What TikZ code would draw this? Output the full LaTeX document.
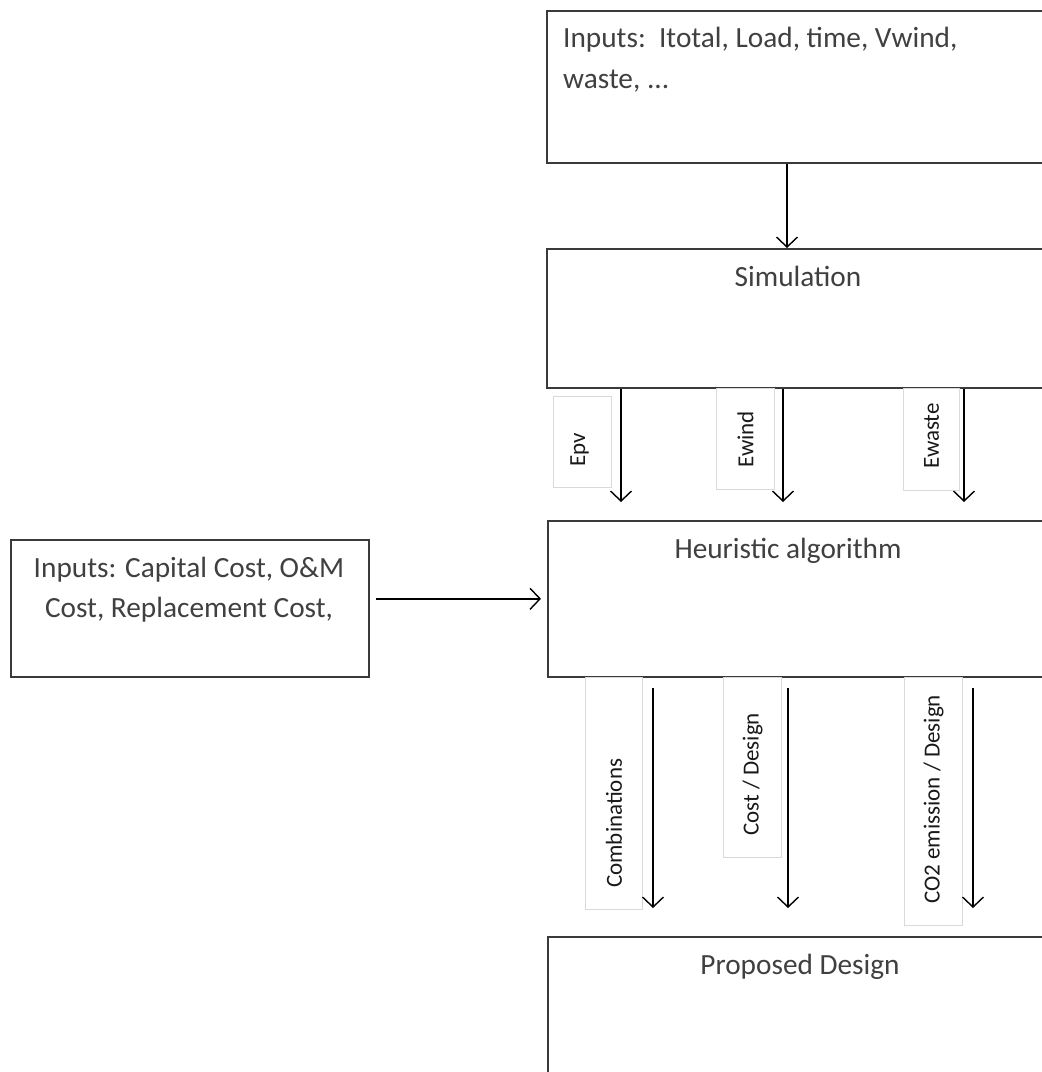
\documentclass[tikz,border=0pt]{standalone}
\usepackage{fontspec}
\setmainfont{Carlito}
\usetikzlibrary{arrows.meta}
\definecolor{txtgray}{HTML}{404040}
\definecolor{boxline}{HTML}{3A3A3A}
\definecolor{lblline}{HTML}{D9D9D9}
\begin{document}
\begin{tikzpicture}[x=1pt,y=-1pt,
  mainbox/.style={draw=boxline,line width=1.6pt,fill=white,anchor=north west,inner sep=0pt},
  lblbox/.style={draw=lblline,line width=1pt,anchor=north west,inner sep=0pt},
  maintxt/.style={text=txtgray,font=\fontsize{29.3}{40}\selectfont,inner sep=0pt},
  lbltxt/.style={text=black!90,font=\fontsize{23}{28}\selectfont,inner sep=0pt,rotate=90,anchor=west},
  arr/.style={draw=black,line width=1.4pt,-{Straight Barb[length=10pt,width=21pt]}}]
\useasboundingbox (0,0) rectangle (1042,1072);
\fill[white] (0,0) rectangle (1042,1072);
\clip (0,0) rectangle (1042,1072);

% main boxes
\node[mainbox,minimum width=514pt,minimum height=152pt] (top) at (546,10) {};
\node[mainbox,minimum width=514pt,minimum height=139pt] (sim) at (546,248) {};
\node[mainbox,minimum width=514pt,minimum height=156pt] (heur) at (547,520) {};
\node[mainbox,minimum width=514pt,minimum height=160pt] (prop) at (547,936) {};
\node[mainbox,minimum width=358pt,minimum height=137pt] (left) at (10,539) {};

% main texts
\node[maintxt,anchor=base west,align=left] (toptxt) at (563,47) {Inputs:\ \ Itotal, Load, time, Vwind,};
\node[maintxt,anchor=base west,align=left] (toptxt2) at (563,88) {waste, ...};
\node[maintxt,anchor=base] (simtxt) at (798,286) {Simulation};
\node[maintxt,anchor=base] (heurtxt) at (788,558) {Heuristic algorithm};
\node[maintxt,anchor=base] (proptxt) at (800,974) {Proposed Design};
\node[maintxt,anchor=base] (lefttxt) at (189,577) {Inputs: Capital Cost, O\&M};
\node[maintxt,anchor=base] (lefttxt2) at (189,617) {Cost, Replacement Cost,};

% label boxes
\node[lblbox,minimum width=58pt,minimum height=91pt] (epvbox) at (553,396) {};
\node[lblbox,minimum width=58pt,minimum height=101pt] (ewindbox) at (716,388) {};
\node[lblbox,minimum width=56pt,minimum height=102pt] (ewastebox) at (903,388) {};
\node[lblbox,minimum width=57pt,minimum height=232pt] (combbox) at (585,677) {};
\node[lblbox,minimum width=58pt,minimum height=180pt] (costbox) at (723,677) {};
\node[lblbox,minimum width=58pt,minimum height=248pt] (co2box) at (904,677) {};

% label texts
\node[lbltxt] (epv) at ([yshift=21pt,xshift=-3pt]epvbox.south) {Epv};
\node[lbltxt] (ewind) at ([yshift=22pt]ewindbox.south) {Ewind};
\node[lbltxt] (ewaste) at ([yshift=22pt]ewastebox.south) {Ewaste};
\node[lbltxt] (comb) at ([yshift=22pt]combbox.south) {Combinations};
\node[lbltxt] (cost) at ([yshift=22pt]costbox.south) {Cost / Design};
\node[lbltxt] (co2) at ([yshift=22pt]co2box.south) {CO2 emission / Design};

% connectors
\draw[arr] ([xshift=241pt]top.south west) -- ([xshift=241pt]top.south west |- sim.north);
\draw[arr,shorten >=18pt] ([xshift=75pt]sim.south west) -- ([xshift=75pt]sim.south west |- heur.north);
\draw[arr,shorten >=18pt] ([xshift=237pt]sim.south west) -- ([xshift=237pt]sim.south west |- heur.north);
\draw[arr,shorten >=18pt] ([xshift=418pt]sim.south west) -- ([xshift=418pt]sim.south west |- heur.north);
\draw[arr,shorten <=10pt,shorten >=28pt] ([xshift=106pt]heur.south west) -- ([xshift=106pt]heur.south west |- prop.north);
\draw[arr,shorten <=10pt,shorten >=28pt] ([xshift=241pt]heur.south west) -- ([xshift=241pt]heur.south west |- prop.north);
\draw[arr,shorten <=10pt,shorten >=28pt] ([xshift=426pt]heur.south west) -- ([xshift=426pt]heur.south west |- prop.north);
\draw[arr,shorten <=6pt,shorten >=6pt] (left.east |- heur.west) -- (heur.west);
\end{tikzpicture}
\end{document}
